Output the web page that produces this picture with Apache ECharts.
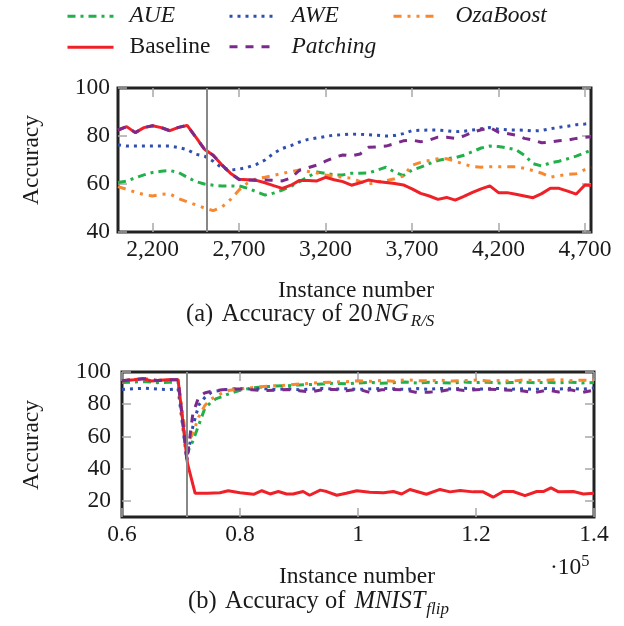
<!DOCTYPE html>
<html><head><meta charset="utf-8">
<script src="https://cdn.jsdelivr.net/npm/echarts@6/dist/echarts.min.js"></script>
<style>html,body{margin:0;padding:0;background:#fff}#c{width:624px;height:626px}</style>
</head><body><div id="c"></div>
<script>
// ---------- DATA ----------
const names = ['AUE', 'AWE', 'OzaBoost', 'Baseline', 'Patching'];

// (a) 20NG_R/S
const xTop = [2000,2050,2100,2150,2200,2250,2300,2350,2400,2450,2500,2550,2600,2650,2700,2750,2800,2850,2900,2950,3000,3050,3100,3150,3200,3250,3300,3350,3400,3450,3500,3550,3600,3650,3700,3750,3800,3850,3900,3950,4000,4050,4100,4150,4200,4250,4300,4350,4400,4450,4500,4550,4600,4650,4700,4735];
const topAUE = [60.6,61.2,62.6,63.8,64.8,65.3,65.6,64.8,62.8,61,60,59.5,59.2,59.2,59.2,58.2,56.8,55.4,56.2,57.5,59,61,63,65,64.4,63.8,63.8,64.5,64.5,64.6,65.8,67,65,63.5,65.8,67,68.5,69.8,70.5,71,72,73.5,75,75.8,75.6,75,74.3,72,68.5,67.5,68.8,69.5,70.5,71.6,73,74.2];
const topAWE = [76.3,75.8,75.8,75.8,75.8,75.8,75.8,75.2,74.3,72.4,71.6,69.5,66.8,65.8,66.2,67,68.2,70,72.8,74.8,76,77.5,78.6,79.2,79.8,80.4,80.5,80.8,80.7,80.5,80.3,80,80.2,81,82.2,82.4,82.5,82.5,82.2,81.8,82,82.5,83,83.5,82.8,82.6,82.5,82.4,82.1,82.3,83,83.6,84.1,84.7,85,85.3];
const topOza = [58.9,57.8,56.6,55.6,55,55.7,55.9,53.9,52.6,51.3,50,48.9,50.3,53.5,57.5,60.5,62.2,62.8,63.6,64.4,65.2,65.8,65.2,64.6,63.8,63.2,62.8,62.4,61,60,60.8,61.4,62.2,63.3,67.8,69,69.8,70.5,70.5,69.5,68.3,67.2,67,67.2,67.2,67.2,67.2,66.5,65.6,64.5,62.8,63.5,64,64.3,66,67];
const topBase = [82.5,83.9,81.4,83.5,84.3,83.5,82.2,83.6,84.4,79.5,74.5,72,68,64.5,62,61.8,61.5,60.5,59.3,58.2,59.5,61.5,61.5,61.3,62.8,61.8,61,59.5,60.5,61.7,61,60.6,60.2,59.6,58,56.1,55,53.6,54.4,53.3,54.8,56.5,58,59.2,56.4,56.4,55.7,55,54.3,56,58.2,58.2,57,55.8,59.6,59.4];
const topPatch = [82.5,83.9,81.4,83.5,84.3,83.5,82.2,83.6,84.4,79.5,74.5,72,68,64.5,61.9,61.7,61.7,61.7,61.5,61.3,62.5,65.8,66.8,67.9,69.5,71.1,72.1,71.7,72.5,75.3,75.5,75.8,76.8,78,78.3,77.6,78.3,79.5,79.5,79,80,81.6,82.6,83.5,81.6,81,80.4,79,78.3,77.2,77.5,78,78.3,79,79.5,79.7];
const topXTicks = [2200,2700,3200,3700,4200,4700];
const topYTicks = [40,60,80,100];
const topDrift = 2513;

// (b) MNIST_flip (instance number x 10^5)
const xBot = [0.6,0.62,0.64,0.66,0.68,0.695,0.71,0.72,0.73,0.74,0.75,0.76,0.77,0.78,0.8,0.82,0.84,0.86,0.88,0.9,0.92,0.94,0.96,0.98,1,1.02,1.04,1.06,1.08,1.1,1.12,1.14,1.16,1.18,1.2,1.22,1.24,1.26,1.28,1.3,1.32,1.34,1.36,1.38,1.4];
const botAUE = [93.5,93.8,94,93.4,93.6,93.8,49.5,57,67,77,81,83.5,84.8,86.3,88.7,90,90.8,91.3,91.5,92,92.2,92.6,93,92.7,93.2,93.6,93,93.4,93.8,93.2,93.6,93.4,93.2,93.8,93.4,93.7,93.2,93.5,93.8,93.3,93.6,93.3,93.7,93.2,93.5];
const botAWE = [89.1,89.7,89.9,89.4,89.1,89.7,45.3,66,79.4,84,87,88.2,88.8,89.2,89.8,89.4,89.7,89.2,89.6,89,89.4,89.8,89.4,89.6,89.2,89.5,89.8,89.6,89.2,89.7,89.3,89.8,89.4,89.9,89.4,89.6,89.8,89.3,89.6,89.2,89.7,89.4,89.9,89.3,90];
const botOza = [94.6,95.3,95.8,94.8,95.2,95.2,55,62,72,79,83,85,87,88.5,89.5,90.3,91,91.5,91.8,92.5,93,93.5,93.8,94,94.6,94.2,94.8,94.3,95.2,94.6,94.5,94.9,94.4,94.7,95,94.4,94.7,94.3,95,94.6,94.9,95.3,94.6,94.9,95];
const botPatch = [94.6,95.4,95.8,94.8,95.2,95.2,45,74,84.5,87,88,88.5,89,89.3,89.5,89,88.5,88.7,89.2,88.4,87.6,89,89.2,88.3,89.4,87.3,89,89.2,88.8,87.2,87.5,88,89.5,88.5,89,89.3,89,88.6,88.2,87.2,88.8,87.6,89,87.3,88.8];
const xBotBase = [0.6,0.62,0.636,0.65,0.676,0.695,0.711,0.724,0.745,0.766,0.78,0.8,0.823,0.837,0.851,0.865,0.879,0.89,0.907,0.918,0.936,0.947,0.964,0.98,0.998,1.02,1.043,1.06,1.074,1.088,1.116,1.139,1.156,1.173,1.195,1.212,1.229,1.246,1.263,1.283,1.303,1.314,1.327,1.34,1.365,1.382,1.4];
const botBase = [94.4,95.2,95.9,94.4,95.2,95.2,43.3,24.7,24.7,25.1,26.3,25.1,24.1,26.3,24.3,25.8,24.3,24.3,25.8,23.5,26.7,25.8,23.5,24.7,26.3,25.3,25.1,25.8,24.3,27.1,24.1,27.1,25.6,26.5,25.6,25.6,22.3,25.8,25.8,23.3,25.8,25.8,28.1,25.6,25.8,24.3,24.7];
const botXTicks = [0.6,0.8,1,1.2,1.4];
const botYTicks = [20,40,60,80,100];
const botDrift = 0.71;

// ---------- STYLE ----------
const FF = 'Liberation Serif';
const TXT = '#1a1a1a';
const FS = 23.5;
const CFS = 24.5;
const styles = {
  AUE:      {color:'#22b04b', type:[8,5,3,5]},
  AWE:      {color:'#2f4fae', type:[3,5]},
  OzaBoost: {color:'#f7882f', type:[8,6,3,6,3,6]},
  Baseline: {color:'#ee2128', type:'solid'},
  Patching: {color:'#7b2a8c', type:[8,8]}
};
const italic = {AUE:true, AWE:true, OzaBoost:true, Baseline:false, Patching:true};

const tick = (vals) => ({show:true, inside:true, length:9, lineStyle:{color:'#a8a8a8', width:1.5}, customValues: vals});
const lbl = (extra) => Object.assign({fontFamily:FF, fontSize:FS, color:TXT}, extra);

function xAx(grid, min, max, ticks, pos, fmt) {
  return {gridIndex:grid, type:'value', min, max, position:pos,
    axisLine:{show:false}, splitLine:{show:false}, axisTick:tick(ticks),
    axisLabel: pos === 'bottom' ? lbl({customValues:ticks, formatter:fmt, margin:6}) : {show:false}};
}
function yAx(grid, min, max, ticks, pos, margin) {
  return {gridIndex:grid, type:'value', min, max, position:pos,
    axisLine:{show:false}, splitLine:{show:false}, axisTick:tick(ticks),
    axisLabel: pos === 'left' ? lbl({customValues:ticks, margin}) : {show:false}};
}

const zip = (xs, ys) => xs.map((x, i) => [x, ys[i]]);
function ser(name, xs, ys, axis, drift) {
  const s = styles[name];
  const o = {name, type:'line', xAxisIndex:axis, yAxisIndex:axis, data:zip(xs, ys),
    symbol:'none', showSymbol:false, animation:false, clip:true,
    lineStyle:{color:s.color, width:3, type:s.type}, itemStyle:{color:s.color}};
  if (drift !== undefined) {
    o.markLine = {silent:true, symbol:['none','none'], label:{show:false}, animation:false,
      lineStyle:{color:'#888', width:2, type:'solid'}, data:[{xAxis:drift}]};
  }
  return o;
}

const series = [
  ser('AUE', xTop, topAUE, 0, topDrift),
  ser('AWE', xTop, topAWE, 0),
  ser('OzaBoost', xTop, topOza, 0),
  ser('Baseline', xTop, topBase, 0),
  ser('Patching', xTop, topPatch, 0),
  ser('AUE', xBot, botAUE, 2, botDrift),
  ser('AWE', xBot, botAWE, 2),
  ser('OzaBoost', xBot, botOza, 2),
  ser('Baseline', xBotBase, botBase, 2),
  ser('Patching', xBot, botPatch, 2)
];

const legendPos = {AUE:[66,15], AWE:[228,15], OzaBoost:[392,15], Baseline:[66,45.5], Patching:[228,45.5]};
const legends = names.map(n => ({
  data:[n], left:legendPos[n][0], top:legendPos[n][1] - 10.3, padding:0, selectedMode:false,
  itemWidth:46, itemHeight:14,
  itemStyle:{opacity:0, color:'rgba(0,0,0,0)', borderWidth:0},
  lineStyle:{width:3, color:styles[n].color, type:styles[n].type},
  textStyle:{fontFamily:FF, fontSize:FS, color:TXT, fontStyle: italic[n] ? 'italic' : 'normal', padding:[0,0,0,11]}
}));

// text runs (captions etc.)
const ctx = document.createElement('canvas').getContext('2d');
function tw(t, size, it) { ctx.font = (it ? 'italic ' : '') + size + 'px "' + FF + '"'; return ctx.measureText(t).width; }
function runs(x, base, parts) {
  let cx = x; const out = [];
  parts.forEach(p => {
    if (p.x !== undefined) cx = p.x;
    cx += (p.gap || 0);
    out.push({type:'text', x:cx, y:base + (p.dy || 0) - 0.34 * p.size,
      style:{text:p.t, fontFamily:FF, fontSize:p.size, fontStyle:p.it ? 'italic' : 'normal', fill:TXT, align:'left', verticalAlign:'middle'}});
    cx += tw(p.t, p.size, p.it);
  });
  return out;
}
const centered = (t, x, y, rot) => ({type:'text', x, y, rotation:rot || 0,
  style:{text:t, fontFamily:FF, fontSize:FS, fill:TXT, align:'center', verticalAlign:'middle'}});

const graphics = [
  centered('Accuracy', 32, 160, Math.PI / 2),
  centered('Accuracy', 32, 445, Math.PI / 2),
  centered('Instance number', 356, 290.6),
  centered('Instance number', 357, 577),
  ...runs(186, 323.3, [{t:'(a)', size:CFS}, {t:'Accuracy of 20', size:CFS, x:221.7}, {t:'NG', size:CFS, it:true, gap:2}, {t:'R/S', size:17, it:true, dy:4, gap:2}]),
  ...runs(188, 610, [{t:'(b)', size:CFS}, {t:'Accuracy of ', size:CFS, x:225}, {t:'MNIST', size:CFS, it:true, gap:3}, {t:'flip', size:17, it:true, dy:5, gap:1}]),
  ...runs(550, 576, [{t:'\u00b710', size:FS}, {t:'5', size:16.5, dy:-9}])
];

const chart = echarts.init(document.getElementById('c'), null, {renderer:'canvas'});
chart.setOption({
  animation:false,
  backgroundColor:'#fff',
  grid:[
    {left:118, top:88, width:473, height:144, show:true, borderColor:'#222', borderWidth:3, backgroundColor:'transparent'},
    {left:122, top:372, width:472, height:145, show:true, borderColor:'#222', borderWidth:3, backgroundColor:'transparent'}
  ],
  xAxis:[
    xAx(0, 2000, 4735, topXTicks, 'bottom', v => v.toLocaleString('en-US')),
    xAx(0, 2000, 4735, topXTicks, 'top'),
    xAx(1, 0.6, 1.4, botXTicks, 'bottom', v => String(Math.round(v * 10) / 10)),
    xAx(1, 0.6, 1.4, botXTicks, 'top')
  ],
  yAxis:[
    yAx(0, 40, 100, topYTicks, 'left', 8),
    yAx(0, 40, 100, topYTicks, 'right'),
    yAx(1, 10, 100, botYTicks, 'left', 11),
    yAx(1, 10, 100, botYTicks, 'right')
  ],
  legend: legends,
  series,
  graphic: graphics
});
</script></body></html>
